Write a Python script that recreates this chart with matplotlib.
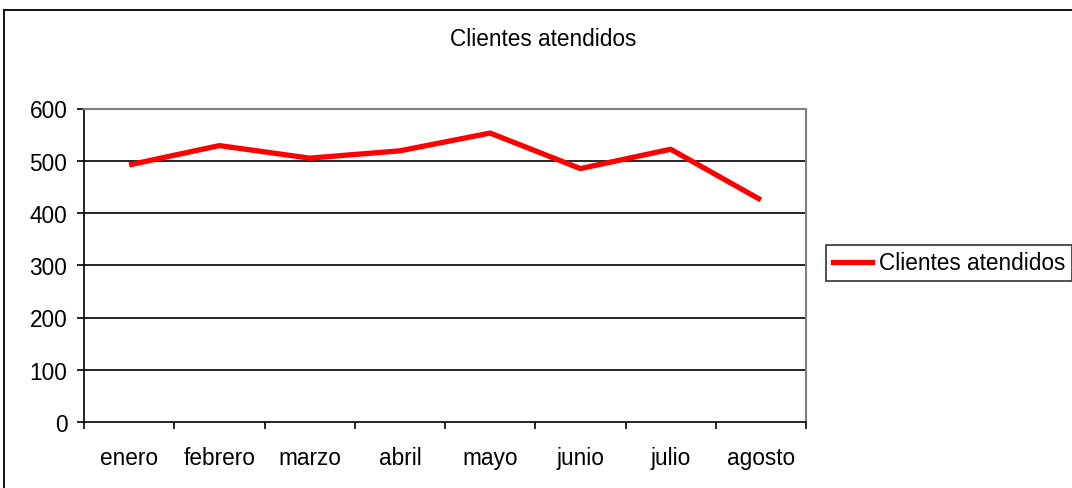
import matplotlib.pyplot as plt
from matplotlib.lines import Line2D
import numpy as np

plt.rcParams['font.family'] = ['Liberation Sans', 'DejaVu Sans']

meses = ['enero', 'febrero', 'marzo', 'abril', 'mayo', 'junio', 'julio', 'agosto']
clientes = [492, 529, 505, 519, 553, 485, 522, 425]
y_ticks = [0, 100, 200, 300, 400, 500, 600]

fig = plt.figure(figsize=(10.72, 4.89), dpi=100)
ax = fig.add_axes([84/1072, 66/489, 722/1072, 313.5/489])

x = np.arange(len(meses))
ax.plot(x, clientes, color='#ff0000', linewidth=3.8, solid_capstyle='butt',
        label='Clientes atendidos', zorder=3)

ax.set_xlim(-0.5, len(meses) - 0.5)
ax.set_ylim(0, 600)
ax.set_yticks(y_ticks)
ax.set_xticks(np.arange(len(meses) + 1) - 0.5, minor=False)
ax.set_xticklabels([])
ax.set_xticks(x, minor=True)
ax.set_xticklabels(meses, minor=True, fontsize=16.3)
ax.tick_params(axis='x', which='minor', length=0, pad=17)
ax.tick_params(axis='x', which='major', length=5, width=1.2, direction='out')
ax.tick_params(axis='y', length=5, width=1.2, direction='out', labelsize=16.3, pad=7)

for v in y_ticks[1:-1]:
    ax.axhline(v, color='black', linewidth=1.2, zorder=1)

ax.spines['left'].set_color('black')
ax.spines['bottom'].set_color('black')
ax.spines['left'].set_linewidth(1.2)
ax.spines['bottom'].set_linewidth(1.2)
ax.spines['top'].set_color('#808080')
ax.spines['right'].set_color('#808080')
ax.spines['top'].set_linewidth(1.5)
ax.spines['right'].set_linewidth(1.5)

fig.text(543/1072, 1 - 40/489, 'Clientes atendidos', ha='center', va='center', fontsize=16.3)

leg = fig.legend(handles=[Line2D([0], [0], color='#ff0000', linewidth=3.8)],
                 labels=['Clientes atendidos'], loc='center left',
                 bbox_to_anchor=(826/1072, 1 - 264/489), fontsize=16.3,
                 frameon=True, fancybox=False, edgecolor='black',
                 handlelength=1.75, handletextpad=0.3, borderpad=0.3,
                 borderaxespad=0)
leg.get_frame().set_linewidth(1.2)

# outer chart frame (cropped on right and bottom)
fig.add_artist(Line2D([3.5/1072, 3.5/1072], [0, 1 - 11/489], color='black',
                      linewidth=1.3, transform=fig.transFigure))
fig.add_artist(Line2D([3.5/1072, 1], [1 - 11/489, 1 - 11/489], color='black',
                      linewidth=1.3, transform=fig.transFigure))

fig.savefig('out.png', dpi=100)
